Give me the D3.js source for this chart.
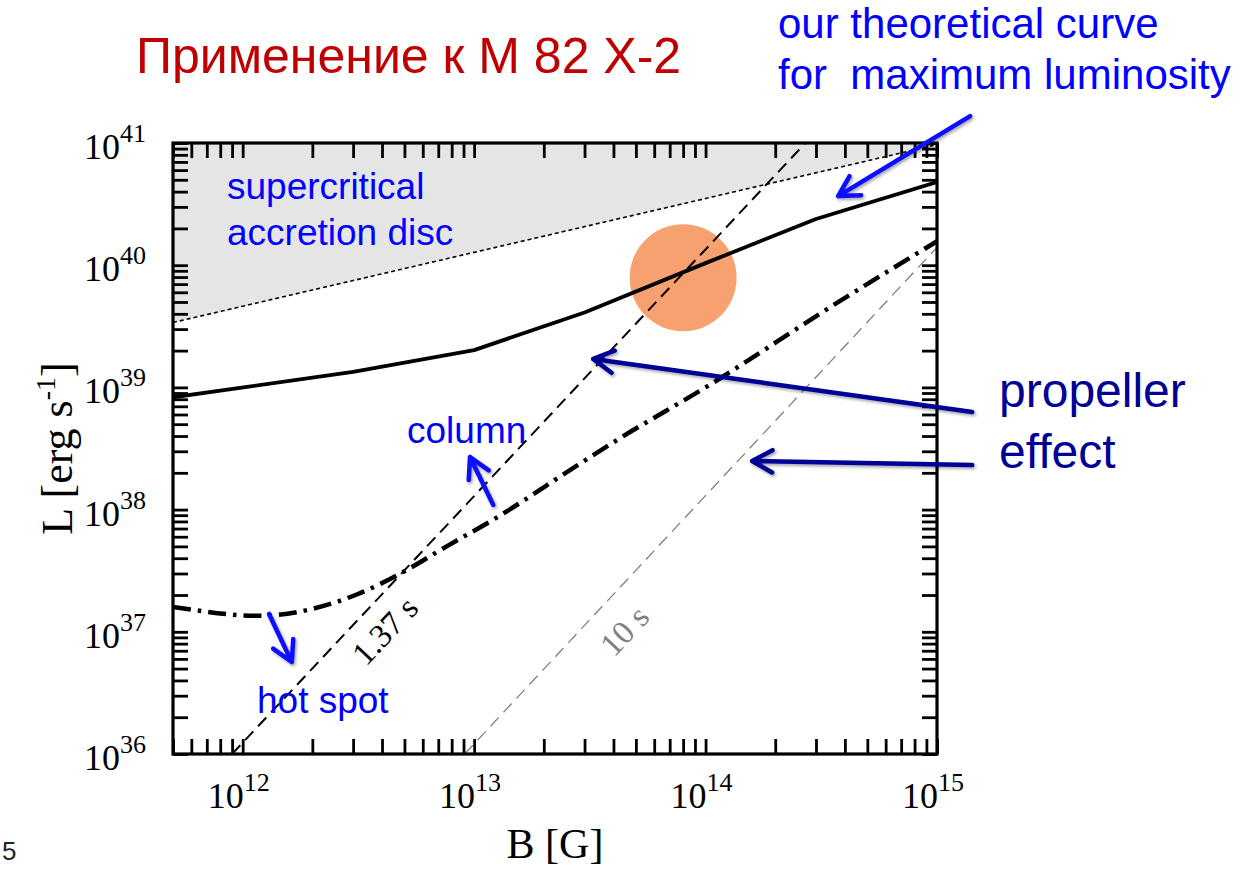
<!DOCTYPE html>
<html>
<head>
<meta charset="utf-8">
<script src="https://cdn.jsdelivr.net/npm/d3@7"></script>
<style>
  html, body { margin: 0; padding: 0; background: #fff; }
  svg { display: block; }
  .sans { font-family: "Liberation Sans", Arial, Helvetica, sans-serif; }
  .serif { font-family: "Liberation Serif", "Times New Roman", serif; }
</style>
</head>
<body>
<svg id="chart" width="1258" height="870"></svg>
<script>
// ---- axis decades and their exponent labels ----
const xDecades = [1e12, 1e13, 1e14, 1e15];
const xDecadeLabels = ["12", "13", "14", "15"];
const yDecades = [1e36, 1e37, 1e38, 1e39, 1e40, 1e41];
const yDecadeLabels = ["36", "37", "38", "39", "40", "41"];

// ---- maximum luminosity curve (B in G, L in erg/s) ----
const maxLumB = [5e11, 3e12, 1e13, 3e13, 1e14, 3e14, 1e15];
const maxLumL = [8.3e38, 1.34e39, 2.02e39, 4.1e39, 1.04e40, 2.39e40, 4.8e40];

// ---- lower edge of the supercritical accretion disc region ----
const discB = [5e11, 1e15];
const discL = [3.4e39, 9.7e40];

// ---- propeller lines for spin periods 1.37 s and 10 s ----
const spin137B = [9.0e11, 2.7e14];
const spin137L = [1e36, 1e41];
const spin10B = [9.1e12, 1e15];
const spin10L = [1e36, 1.4e40];

// ---- hot spot / column transition curve ----
const propB = [5e11, 1.19e12, 2.0e12, 3.15e12, 4.93e12, 7.64e12, 1.2e13, 2.79e13, 4.28e13, 1.0e14, 3.56e14, 1e15];
const propL = [1.6e37, 1.35e37, 1.54e37, 2.04e37, 3.08e37, 5.03e37, 8.2e37, 2.3e38, 3.85e38, 1.0e39, 4.7e39, 1.57e40];

// ---- M 82 X-2 location ----
const sourceB = [8.0e13];
const sourceL = [7.9e39];

// ---- annotation arrows, tail and tip in (B, L) ----
const arrowNames = ["maxlum", "propeller137", "propeller10", "column", "hotspot"];
const arrowFromB = [1.39e15, 1.42e15, 1.42e15, 1.21e13, 1.30e12];
const arrowFromL = [1.66e41, 6.3e38, 2.32e38, 1.09e38, 1.40e37];
const arrowToB   = [3.74e14, 3.27e13, 1.59e14, 9.6e12, 1.63e12];
const arrowToL   = [3.68e40, 1.71e39, 2.5e38, 2.69e38, 5.66e36];

// ---- drawing ----
const svg = d3.select("#chart");
const frame = { left: 173, right: 937, top: 143, bottom: 754 };

const x = d3.scaleLog().domain([5e11, 1e15]).range([frame.left, frame.right]);
const y = d3.scaleLog().domain([1e36, 1e41]).range([frame.bottom, frame.top]);

const defs = svg.append("defs");
defs.append("clipPath").attr("id", "plot-clip")
  .append("rect")
  .attr("x", frame.left).attr("y", frame.top)
  .attr("width", frame.right - frame.left).attr("height", frame.bottom - frame.top);

const shadow = defs.append("filter").attr("id", "arrow-shadow")
  .attr("x", "-20%").attr("y", "-20%").attr("width", "140%").attr("height", "140%");
shadow.append("feDropShadow")
  .attr("dx", 1.5).attr("dy", 2).attr("stdDeviation", 1.5)
  .attr("flood-color", "#000").attr("flood-opacity", 0.35);

const zip = (a, b) => a.map((v, i) => [v, b[i]]);
const line = d3.line().x(d => x(d[0])).y(d => y(d[1]));

const plot = svg.append("g").attr("clip-path", "url(#plot-clip)");

// shaded supercritical region above the disc boundary
plot.append("path")
  .datum(zip(discB, discL))
  .attr("d", d3.area().x(d => x(d[0])).y0(y(1e41)).y1(d => y(d[1])))
  .attr("fill", "#e5e5e5");

// source marker
plot.selectAll("circle.source")
  .data(zip(sourceB, sourceL))
  .join("circle")
  .attr("class", "source")
  .attr("cx", d => x(d[0])).attr("cy", d => y(d[1]))
  .attr("r", 53.5)
  .attr("fill", "#f8a170");

// disc boundary (dotted)
plot.append("path")
  .datum(zip(discB, discL))
  .attr("d", line)
  .attr("fill", "none").attr("stroke", "#000")
  .attr("stroke-width", 1.6).attr("stroke-dasharray", "4 3");

// 10 s propeller line
plot.append("path")
  .datum(zip(spin10B, spin10L))
  .attr("d", line)
  .attr("fill", "none").attr("stroke", "#808080")
  .attr("stroke-width", 1.3).attr("stroke-dasharray", "12 7");

// 1.37 s propeller line
plot.append("path")
  .datum(zip(spin137B, spin137L))
  .attr("d", line)
  .attr("fill", "none").attr("stroke", "#000")
  .attr("stroke-width", 2).attr("stroke-dasharray", "12 7");

// hot spot / column curve (dash-dot)
plot.append("path")
  .datum(zip(propB, propL))
  .attr("d", d3.line().x(d => x(d[0])).y(d => y(d[1])).curve(d3.curveMonotoneX))
  .attr("fill", "none").attr("stroke", "#000")
  .attr("stroke-width", 4.5).attr("stroke-dasharray", "18 7 3.5 7");

// maximum luminosity curve
plot.append("path")
  .datum(zip(maxLumB, maxLumL))
  .attr("d", line)
  .attr("fill", "none").attr("stroke", "#000")
  .attr("stroke-width", 3.8).attr("stroke-linejoin", "round");

// ---- inward ticks on all four sides ----
const tickLen = 15;
function styleAxis(g) {
  g.select(".domain").remove();
  g.selectAll(".tick line").attr("stroke", "#000").attr("stroke-width", 2.8);
}
svg.append("g").attr("transform", `translate(0,${frame.bottom})`)
  .call(d3.axisBottom(x).tickValues(x.ticks()).tickSize(-tickLen).tickFormat(""))
  .call(styleAxis);
svg.append("g").attr("transform", `translate(0,${frame.top})`)
  .call(d3.axisTop(x).tickValues(x.ticks()).tickSize(-tickLen).tickFormat(""))
  .call(styleAxis);
svg.append("g").attr("transform", `translate(${frame.left},0)`)
  .call(d3.axisLeft(y).tickValues(y.ticks()).tickSize(-tickLen).tickFormat(""))
  .call(styleAxis);
svg.append("g").attr("transform", `translate(${frame.right},0)`)
  .call(d3.axisRight(y).tickValues(y.ticks()).tickSize(-tickLen).tickFormat(""))
  .call(styleAxis);

svg.append("rect")
  .attr("x", frame.left).attr("y", frame.top)
  .attr("width", frame.right - frame.left).attr("height", frame.bottom - frame.top)
  .attr("fill", "none").attr("stroke", "#000").attr("stroke-width", 3.2);

// ---- decade labels, 10 with exponent ----
const xLab = svg.append("g").attr("class", "serif").attr("fill", "#000");
xDecades.forEach((d, i) => {
  const px = x(d) + 1;
  xLab.append("text").attr("x", px).attr("y", 808)
    .attr("text-anchor", "end").attr("font-size", 36).text("10");
  xLab.append("text").attr("x", px).attr("y", 791)
    .attr("font-size", 26).text(xDecadeLabels[i]);
});
const yLab = svg.append("g").attr("class", "serif").attr("fill", "#000");
yDecades.forEach((d, i) => {
  const py = y(d);
  yLab.append("text").attr("x", 120).attr("y", py + 16)
    .attr("text-anchor", "end").attr("font-size", 36).text("10");
  yLab.append("text").attr("x", 120).attr("y", py - 1)
    .attr("font-size", 26).text(yDecadeLabels[i]);
});

// axis titles
svg.append("text").attr("class", "serif")
  .attr("x", (frame.left + frame.right) / 2).attr("y", 858)
  .attr("text-anchor", "middle").attr("font-size", 42)
  .text("B [G]");

const yTitle = svg.append("text").attr("class", "serif")
  .attr("transform", `translate(72,${(frame.top + frame.bottom) / 2}) rotate(-90)`)
  .attr("text-anchor", "middle").attr("font-size", 44);
yTitle.append("tspan").text("L [erg s");
yTitle.append("tspan").attr("dy", -17).attr("font-size", 28).text("-1");
yTitle.append("tspan").attr("dy", 17).text("]");

// labels on the propeller lines
svg.append("text").attr("class", "serif")
  .attr("transform", "translate(366,667) rotate(-46.6)")
  .attr("font-size", 33).attr("fill", "#000").text("1.37 s");
svg.append("text").attr("class", "serif")
  .attr("transform", "translate(614,658) rotate(-46.6)")
  .attr("font-size", 33).attr("fill", "#808080").text("10 s");

// ---- text annotations ----
const notes = svg.append("g").attr("class", "sans");
notes.append("text").attr("x", 136).attr("y", 73)
  .attr("font-size", 50).attr("fill", "#c00000")
  .text("Применение к М 82 Х-2");

notes.append("text").attr("x", 778).attr("y", 38)
  .attr("font-size", 42).attr("fill", "#0000ff")
  .text("our theoretical curve");
notes.append("text").attr("x", 778).attr("y", 89)
  .attr("font-size", 42).attr("fill", "#0000ff")
  .style("white-space", "pre")
  .text("for  maximum luminosity");

notes.append("text").attr("x", 227).attr("y", 199)
  .attr("font-size", 37).attr("fill", "#0000ff").text("supercritical");
notes.append("text").attr("x", 227).attr("y", 245)
  .attr("font-size", 37).attr("fill", "#0000ff").text("accretion disc");

notes.append("text").attr("x", 407).attr("y", 443)
  .attr("font-size", 37).attr("fill", "#0000ff").text("column");
notes.append("text").attr("x", 257).attr("y", 713)
  .attr("font-size", 37).attr("fill", "#0000ff").text("hot spot");

notes.append("text").attr("x", 999).attr("y", 407)
  .attr("font-size", 48).attr("fill", "#000096").text("propeller");
notes.append("text").attr("x", 999).attr("y", 468)
  .attr("font-size", 48).attr("fill", "#000096").text("effect");

// slide number
notes.append("text").attr("x", 2).attr("y", 860)
  .attr("font-size", 26).attr("fill", "#222").text("5");

// ---- arrows ----
const arrowColor = {
  maxlum: "#0a0aff", propeller137: "#000096", propeller10: "#000096",
  column: "#0a0aff", hotspot: "#0a0aff"
};
function arrowPath(x0, y0, x1, y1) {
  const ang = Math.atan2(y0 - y1, x0 - x1);
  const len = 23, spread = Math.PI / 6.2;
  const a1 = [x1 + len * Math.cos(ang - spread), y1 + len * Math.sin(ang - spread)];
  const a2 = [x1 + len * Math.cos(ang + spread), y1 + len * Math.sin(ang + spread)];
  return `M${x0},${y0}L${x1},${y1}M${a1[0]},${a1[1]}L${x1},${y1}L${a2[0]},${a2[1]}`;
}
svg.append("g").attr("filter", "url(#arrow-shadow)")
  .selectAll("path")
  .data(arrowNames.map((n, i) => ({
    name: n,
    x0: x(arrowFromB[i]), y0: y(arrowFromL[i]),
    x1: x(arrowToB[i]), y1: y(arrowToL[i])
  })))
  .join("path")
  .attr("d", d => arrowPath(d.x0, d.y0, d.x1, d.y1))
  .attr("fill", "none")
  .attr("stroke", d => arrowColor[d.name])
  .attr("stroke-width", 4.5)
  .attr("stroke-linecap", "round")
  .attr("stroke-linejoin", "round");
</script>
</body>
</html>
